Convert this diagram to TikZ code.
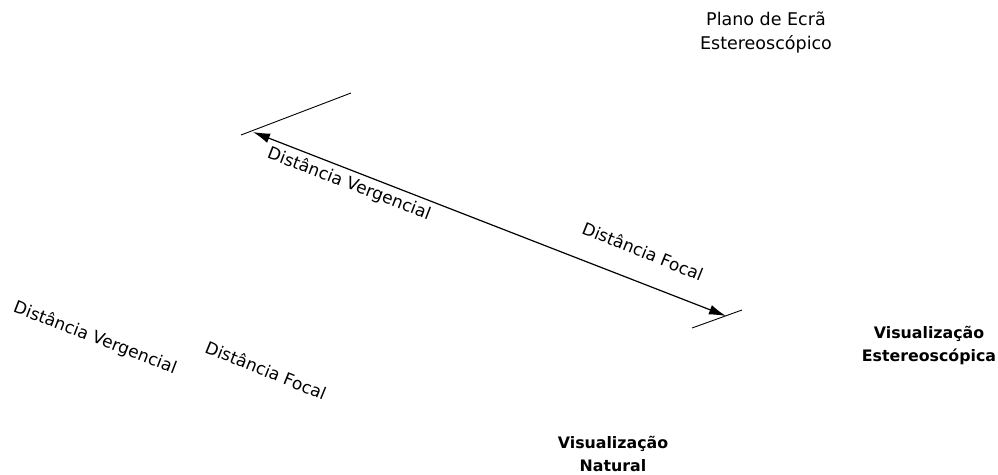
\documentclass[tikz,border=0pt]{standalone}
\usepackage{fontspec}
\setmainfont{DejaVu Sans}
\usetikzlibrary{arrows.meta}
\begin{document}
\begin{tikzpicture}[x=1pt,y=-1pt,
  lbl/.style={font=\fontsize{17}{20}\selectfont,inner sep=0pt},
  ttl/.style={font=\fontsize{17.5}{24}\selectfont,align=center,inner sep=0pt},
  ttlb/.style={font=\bfseries\fontsize{15.8}{23}\selectfont,align=center,inner sep=0pt},
  thin line/.style={line width=0.9pt},
  dist/.style={line width=1.2pt,{Latex[length=17pt,width=10pt]}-{Latex[length=17pt,width=10pt]}}]
\useasboundingbox (0,0) rectangle (998,474);
% screen plane (upper end) and focal plane (lower end)
\coordinate (ts1) at (241,135);
\coordinate (ts2) at (351,93);
\coordinate (bs1) at (692,328);
\coordinate (bs2) at (742,310);
\draw[thin line] (ts1) -- (ts2);
\draw[thin line] (bs1) -- (bs2);
% distance arrow
\coordinate (va) at (253,132);
\coordinate (fa) at (726,316);
\draw[dist] (va) -- (fa);
% labels along the arrow
\node[lbl,rotate=-21] (dv1) at (349,184) {Distância Vergencial};
\node[lbl,rotate=-22] (df1) at (643,251) {Distância Focal};
% natural viewing labels
\node[lbl,rotate=-21] (dv2) at (95,338) {Distância Vergencial};
\node[lbl,rotate=-22] (df2) at (266,370) {Distância Focal};
% titles
\node[ttl] (plano) at (766,33) {Plano de Ecrã\\Estereoscópico};
\node[ttlb] (vest) at (929,345) {Visualização\\Estereoscópica};
\node[ttlb] (vnat) at (613,454) {Visualização\\Natural};
\end{tikzpicture}
\end{document}
